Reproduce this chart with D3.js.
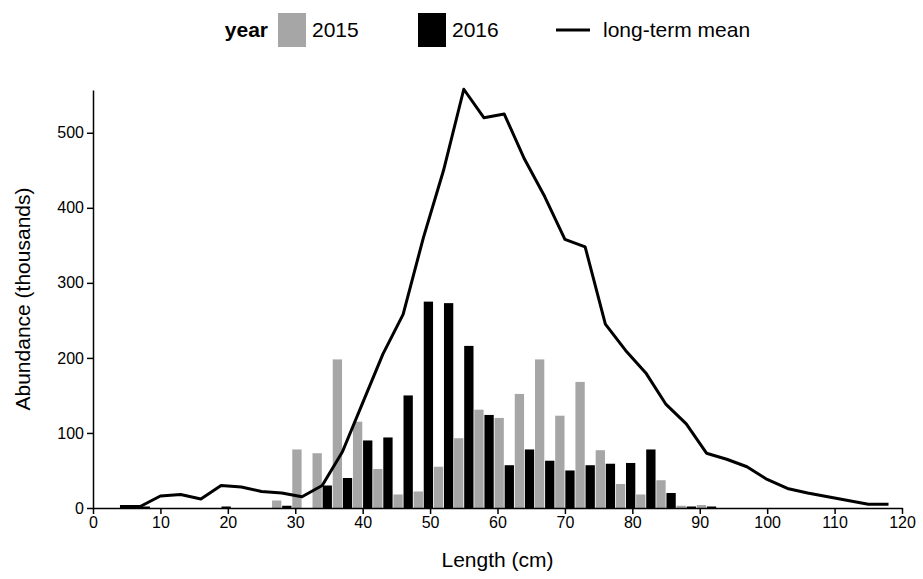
<!DOCTYPE html>
<html><head><meta charset="utf-8">
<script src="https://cdn.jsdelivr.net/npm/d3@7"></script>
<style>body{margin:0;background:#fff;font-family:Arial,"Liberation Sans",sans-serif}</style>
</head><body><div id="chart"></div>
<script>
const bins = [4,7,10,13,16,19,22,25,28,31,34,37,40,43,46,49,52,55,58,61,64,67,70,73,76,79,82,85,88,91];
const y2015 = [0,0,0,0,0,0,0,0,10,78,73,198,115,52,18,22,55,93,131,120,152,198,123,168,77,32,18,37,3,4];
const y2016 = [2,2,0,0,0,2,0,0,3,0,30,40,90,94,150,275,273,216,124,57,78,63,50,57,59,60,78,20,2,2];
const meanLen = [4,7,10,13,16,19,22,25,28,31,34,37,40,43,46,49,52,55,58,61,64,67,70,73,76,79,82,85,88,91,94,97,100,103,106,109,112,115,118];
const meanVal = [2,2,16,18,12,30,28,22,20,15,30,75,140,205,258,360,450,558,520,525,465,415,358,348,245,210,180,138,112,73,65,55,38,26,20,15,10,5,5];
const xTicks = d3.range(0,121,10);
const yTicks = [0,100,200,300,400,500];

const W=923,H=579;
const svg=d3.select("#chart").append("svg").attr("width",W).attr("height",H);
const x=d3.scaleLinear().domain([0,120]).range([93,902]);
const y=d3.scaleLinear().domain([0,557]).range([508,90]);
const bw=(x(3)-x(0))/2-0.8;

const g=svg.append("g");
g.selectAll(".b15").data(bins).enter().append("rect")
 .attr("x",(d)=>x(d)-bw-0.4).attr("width",bw)
 .attr("y",(d,i)=>y(y2015[i])).attr("height",(d,i)=>y(0)-y(y2015[i])).attr("fill","#a6a6a6");
g.selectAll(".b16").data(bins).enter().append("rect")
 .attr("x",(d)=>x(d)+0.4).attr("width",bw)
 .attr("y",(d,i)=>y(y2016[i])).attr("height",(d,i)=>y(0)-y(y2016[i])).attr("fill","#000");
g.append("path").datum(meanLen.map((d,i)=>[d,meanVal[i]]))
 .attr("d",d3.line().x(d=>x(d[0])).y(d=>y(d[1])))
 .attr("fill","none").attr("stroke","#000").attr("stroke-width",3).attr("stroke-linejoin","round");

const xa=svg.append("g").attr("transform","translate(0,508)")
 .call(d3.axisBottom(x).tickValues(xTicks).tickSize(6).tickSizeOuter(0));
const ya=svg.append("g").attr("transform","translate(93,0)")
 .call(d3.axisLeft(y).tickValues(yTicks).tickSize(6).tickSizeOuter(0));
[xa,ya].forEach(a=>{a.selectAll("text").attr("font-size",16).attr("font-family","Arial,Liberation Sans").attr("fill","#000");
 a.selectAll("line,path").attr("stroke","#000").attr("stroke-width",1.5);});

svg.append("text").attr("x",(x(0)+x(120))/2).attr("y",567).attr("text-anchor","middle").attr("font-size",21).text("Length (cm)");
svg.append("text").attr("transform","translate(30,299) rotate(-90)").attr("text-anchor","middle").attr("font-size",21).text("Abundance (thousands)");

const lg=svg.append("g").attr("font-size",21);
lg.append("text").attr("x",268).attr("y",37).attr("text-anchor","end").attr("font-weight","bold").text("year");
lg.append("rect").attr("x",278).attr("y",13).attr("width",28).attr("height",34).attr("fill","#a6a6a6");
lg.append("text").attr("x",312).attr("y",37).text("2015");
lg.append("rect").attr("x",418).attr("y",13).attr("width",28).attr("height",34).attr("fill","#000");
lg.append("text").attr("x",452).attr("y",37).text("2016");
lg.append("line").attr("x1",556).attr("x2",590).attr("y1",30).attr("y2",30).attr("stroke","#000").attr("stroke-width",3);
lg.append("text").attr("x",603).attr("y",37).text("long-term mean");
</script></body></html>
